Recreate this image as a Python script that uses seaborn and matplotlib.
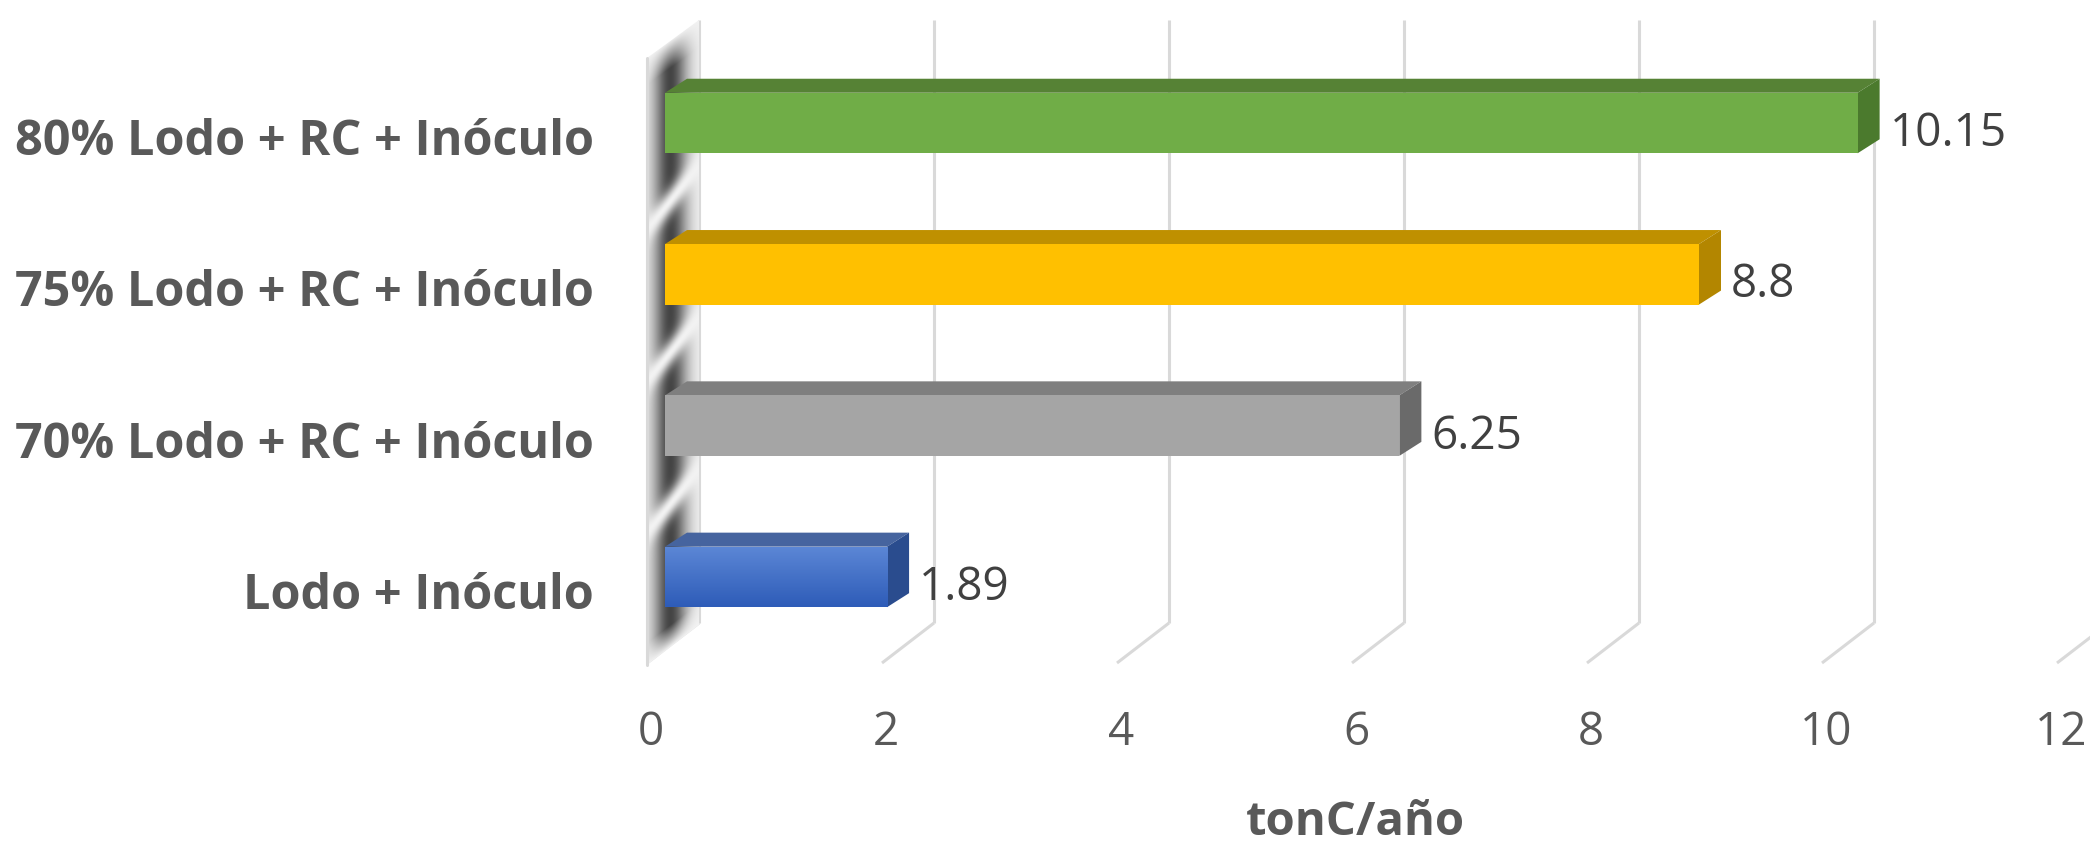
import numpy as np
import pandas as pd
import matplotlib
matplotlib.use("Agg")
import matplotlib.pyplot as plt
from matplotlib.patches import Polygon
import seaborn as sns

# ---------------- data ----------------
categories = ["80% Lodo + RC + Inóculo", "75% Lodo + RC + Inóculo",
              "70% Lodo + RC + Inóculo", "Lodo + Inóculo"]
values = [10.15, 8.8, 6.25, 1.89]
value_labels = ["10.15", "8.8", "6.25", "1.89"]
x_ticks = [0, 2, 4, 6, 8, 10, 12]
x_label = "tonC/año"

# ---------------- styles ----------------
front_colors = ["#70AD47", "#FFC000", "#A5A5A5", "#4472C4"]
top_colors = ["#568235", "#BF9000", "#7F7F7F", "#46649F"]
side_colors = ["#4B7A2D", "#B38600", "#6A6A6A", "#2A4C8E"]
grid_color = "#D9D9D9"

sns.set_theme(style="white")
plt.rcParams['font.family'] = ['Open Sans', 'DejaVu Sans']

W, H = 2090, 846
fig = plt.figure(figsize=(W / 100, H / 100), dpi=100)
AX_L = 605
ax = fig.add_axes([AX_L / W, 0, 1 - AX_L / W, 1])

# pixel layout helpers (front face of bars: 0 at px 665, 117.5 px per unit)
X0, UX, Y0, UY = 665.0, 117.5, 123.0, 151.3
def X(px):
    return (px - X0) / UX
def Y(py):
    return (py - Y0) / UY

df = pd.DataFrame({"cat": categories, "val": values})
sns.barplot(data=df, x="val", y="cat", hue="cat", palette=front_colors,
            orient="h", width=0.4, ax=ax, legend=False, saturation=1,
            linewidth=0, zorder=5)

ax.set_xlim(X(AX_L), X(W))
ax.set_ylim(Y(H), Y(0))
ax.axis("off")

# depth offsets
BX = (699 - X0) / UX        # back wall offset
FXo = (647 - X0) / UX       # floor front offset
Y_BACK = Y(623)
Y_FRONT = Y(663)
Y_TOP = Y(20)

# back-wall gridlines and floor diagonals
for v in x_ticks:
    ax.plot([v + BX, v + BX], [Y_TOP, Y_BACK], color=grid_color, lw=2.2,
            zorder=1, solid_capstyle="butt")
    ax.plot([v + BX, v + FXo], [Y_BACK, Y_FRONT], color=grid_color, lw=2.2,
            zorder=1, solid_capstyle="butt")

# left wall with shaded bands
wx0, wx1 = 647.0, 699.0
xs = np.arange(640, 708) + 0.5
ys = np.arange(10, 675) + 0.5
XX, YY = np.meshgrid(xs, ys)
t = np.clip((XX - wx0) / (wx1 - wx0), 0, 1)
n = len(categories)
gaps = Y0 + UY * (np.arange(n - 1) + 0.5)
ypr = YY + 1.22 * (XX - 673)
dist = np.min(np.abs(ypr[..., None] - gaps[None, None, :]), axis=-1)
light = np.exp(-(dist / 14.0) ** 2)
darkx = np.exp(-((t - 0.45) / 0.32) ** 2)
ytop = 58 - 38 * t
ybot = 665 - 40 * t
ft = np.clip((YY - ytop) / 28.0, 0, 1)
fb = np.clip((ybot - YY) / 22.0, 0, 1)
dark = darkx * (1 - light) * ft * fb
g = 0.95 - 0.68 * dark
img = np.dstack([g, g, g, np.ones_like(g)])
wall_poly = Polygon([(X(wx0), Y(58)), (X(wx1), Y(20)), (X(wx1), Y(625)),
                     (X(wx0), Y(665))], closed=True, transform=ax.transData,
                    facecolor="none", edgecolor="none")
ax.add_patch(wall_poly)
im = ax.imshow(img, extent=(X(640), X(708), Y(675), Y(10)), origin="upper",
               aspect="auto", zorder=2, interpolation="bilinear")
im.set_clip_path(wall_poly)
ax.plot([X(wx0), X(wx0)], [Y(58), Y(665)], color=grid_color, lw=2.2, zorder=3)

# 3D faces of the bars
ddx = 22 / UX
ddy = 14 / UY
bars = [b for c in ax.containers for b in c]
for bar in bars:
    yc = bar.get_y() + bar.get_height() / 2
    i = int(round(yc))
    x0 = bar.get_x()
    w = bar.get_width()
    ytop_b = bar.get_y()
    ybot_b = bar.get_y() + bar.get_height()
    top = Polygon([(x0, ytop_b), (x0 + w, ytop_b), (x0 + w + ddx, ytop_b - ddy),
                   (x0 + ddx, ytop_b - ddy)], closed=True,
                  facecolor=top_colors[i], edgecolor="none", zorder=4)
    side = Polygon([(x0 + w, ytop_b), (x0 + w + ddx, ytop_b - ddy),
                    (x0 + w + ddx, ybot_b - ddy), (x0 + w, ybot_b)], closed=True,
                   facecolor=side_colors[i], edgecolor="none", zorder=4)
    ax.add_patch(top)
    ax.add_patch(side)
    if i == 3:
        grad = np.linspace(0, 1, 64)[:, None]
        c1 = np.array([0x5C, 0x87, 0xD6]) / 255
        c2 = np.array([0x2E, 0x5C, 0xB8]) / 255
        cols = c1[None, :] * (1 - grad) + c2[None, :] * grad
        gimg = np.repeat(cols[:, None, :], 4, axis=1)
        gi = ax.imshow(gimg, extent=(x0, x0 + w, ybot_b, ytop_b), origin="upper",
                       aspect="auto", zorder=6, interpolation="bilinear")
        gi.set_clip_path(bar)
    # value label
    ax.text(x0 + w + 32 / UX, yc + 23 / UY, value_labels[i], ha="left",
            va="baseline", fontsize=33, color="#404040", zorder=7)

# category labels
for i, cat in enumerate(categories):
    ax.text(X(594), i + 32 / UY, cat, ha="right", va="baseline", fontsize=35,
            fontweight="bold", color="#595959", clip_on=False)

# x tick labels
for v in x_ticks:
    ax.text(v + (651 - X0) / UX, Y(745), str(v), ha="center", va="baseline",
            fontsize=33, color="#595959", clip_on=False)

# axis title
ax.text(X(1355), Y(835), x_label, ha="center", va="baseline", fontsize=34,
        fontweight="bold", color="#595959", clip_on=False)

fig.savefig("out.png", dpi=100)
